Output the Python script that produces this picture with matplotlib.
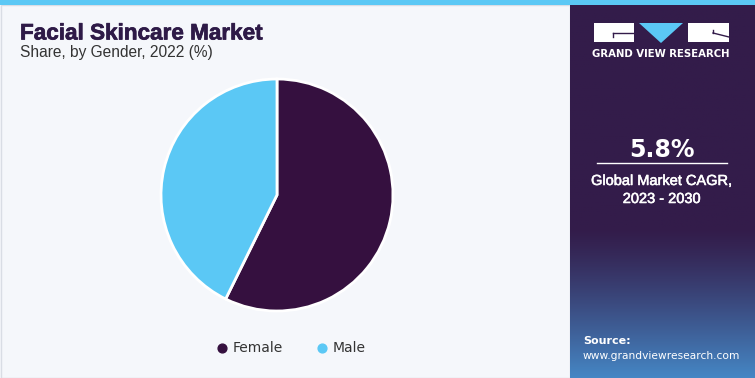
import numpy as np
import matplotlib
matplotlib.use("Agg")
import matplotlib.pyplot as plt
import matplotlib.patheffects as pe
from matplotlib.patches import Rectangle, Polygon

# data
genders = ["Female", "Male"]
shares = [57.3, 42.7]
colors = ["#35103f", "#5bc8f5"]

W, H = 755, 378
fig = plt.figure(figsize=(W / 100, H / 100), dpi=100)
fig.patch.set_facecolor("#f5f7fb")

# background axes in pixel coords
bg = fig.add_axes([0, 0, 1, 1])
bg.set_xlim(0, W)
bg.set_ylim(H, 0)
bg.axis("off")

# left panel border + top stripe
bg.add_patch(Rectangle((0.5, 5), 569, H - 5.5, facecolor="#f5f7fb", edgecolor="#d9dde5", lw=1))
bg.add_patch(Rectangle((0, 0), W, 5, facecolor="#5bc8f5", edgecolor="none"))

# right panel with gradient to blue at bottom
grad = np.linspace(0, 1, 200)
top_c = np.array([0x33, 0x1c, 0x4a]) / 255
bot_c = np.array([0x45, 0x86, 0xc4]) / 255
t = np.clip((grad - 0.6) / 0.4, 0, 1) ** 1.2
img = (top_c[None, :] * (1 - t[:, None]) + bot_c[None, :] * t[:, None])[:, None, :]
bg.imshow(img, extent=(570, W, H, 5), aspect="auto", zorder=1)

# logo
bg.add_patch(Rectangle((594, 23), 40, 19, facecolor="white", edgecolor="none", zorder=2))
bg.plot([613, 634], [33, 33], color="#331c4a", lw=1, zorder=3)
bg.plot([613, 613], [33, 37], color="#331c4a", lw=1, zorder=3)
bg.add_patch(Polygon([(639, 23), (683, 23), (661, 43)], closed=True, facecolor="#5bc8f5", edgecolor="none", zorder=2))
bg.add_patch(Rectangle((688, 23), 41, 19, facecolor="white", edgecolor="none", zorder=2))
bg.plot([713, 729], [33, 37], color="#331c4a", lw=1, zorder=3)
bg.plot([713, 713], [30, 33], color="#331c4a", lw=1, zorder=3)
bg.text(661, 54, "GRAND VIEW RESEARCH", color="white", fontsize=7.3, fontweight="bold",
        ha="center", va="center", zorder=3)

# CAGR block
bg.text(662, 150, "5.8%", color="white", fontsize=17, fontweight="bold", ha="center", va="center", zorder=3)
bg.plot([597, 727], [163, 163], color="white", lw=1, zorder=3)
bg.text(662, 181, "Global Market CAGR,", color="white", fontsize=10.5, family="Liberation Sans",
        ha="center", va="center", zorder=3,
        path_effects=[pe.withStroke(linewidth=0.4, foreground="white")])
bg.text(662, 199, "2023 - 2030", color="white", fontsize=10.5, family="Liberation Sans",
        ha="center", va="center", zorder=3,
        path_effects=[pe.withStroke(linewidth=0.4, foreground="white")])

bg.text(583, 341, "Source:", color="white", fontsize=8, fontweight="bold", ha="left", va="center", zorder=3)
bg.text(583, 356, "www.grandviewresearch.com", color="white", fontsize=7.7, ha="left", va="center", zorder=3)

# titles
bg.text(20, 34, "Facial Skincare Market", color="#2e1a47", fontsize=16.2, fontweight="bold",
        family="Liberation Sans", ha="left", va="center", zorder=3,
        path_effects=[pe.withStroke(linewidth=0.5, foreground="#2e1a47")])
bg.text(20, 53, "Share, by Gender, 2022 (%)", color="#333333", fontsize=11.2,
        family="Liberation Sans", ha="left", va="center", zorder=3)

# pie
cx, cy, r = 277, 195, 116
ax = fig.add_axes([(cx - r) / W, (H - cy - r) / H, 2 * r / W, 2 * r / H])
ax.pie(shares, colors=colors, startangle=90, counterclock=False,
       wedgeprops={"edgecolor": "white", "linewidth": 2})
ax.set_xlim(-1, 1)
ax.set_ylim(-1, 1)
ax.set_aspect("equal")

# legend
for x, label, c in [(222, "Female", colors[0]), (322, "Male", colors[1])]:
    bg.scatter([x], [348], s=40, color=c, zorder=3)
    bg.text(x + 11, 348, label, color="#333333", fontsize=10, ha="left", va="center", zorder=3)

fig.savefig("out.png", dpi=100)
